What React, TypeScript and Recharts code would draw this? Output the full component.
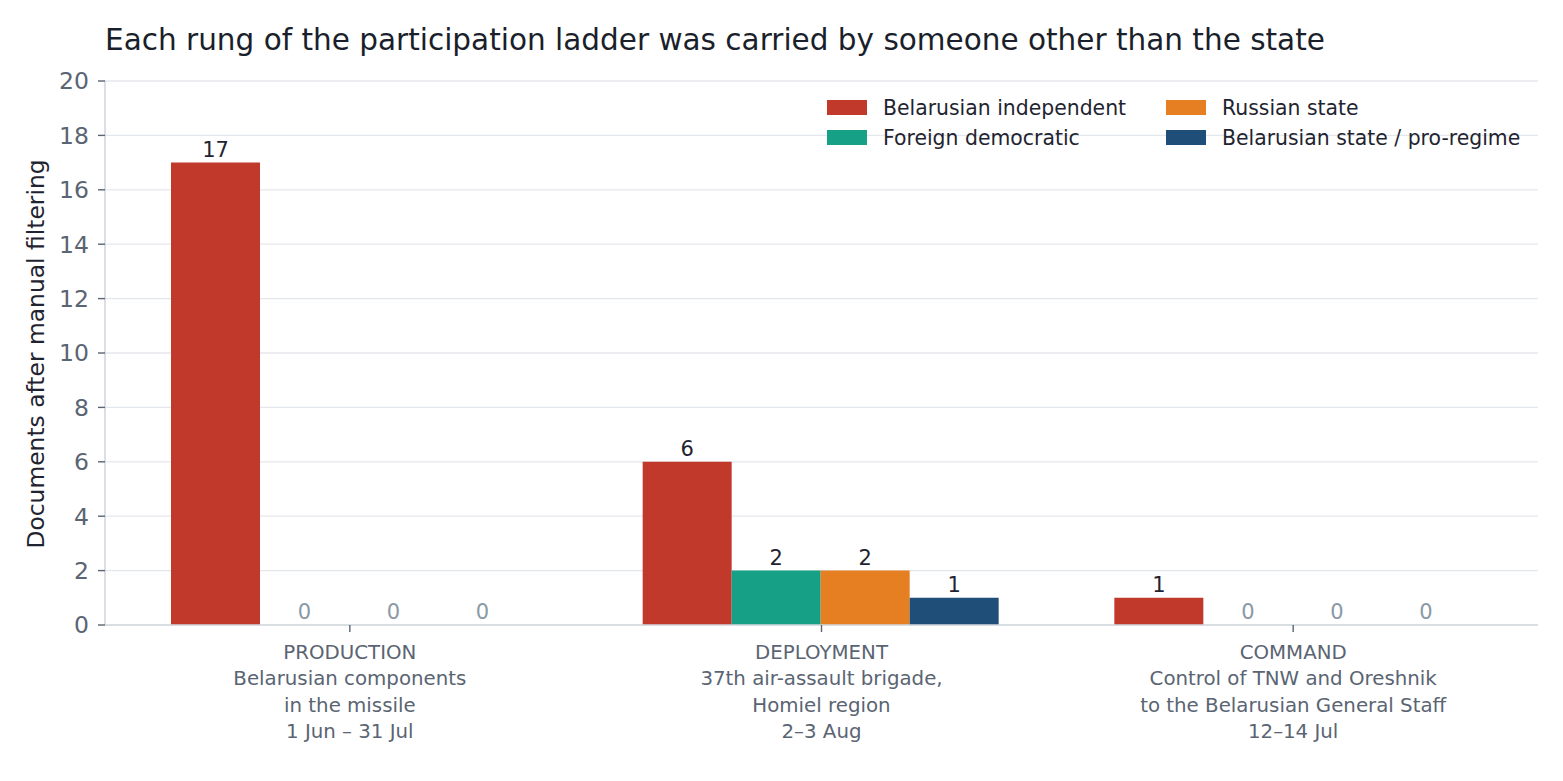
import { Bar, BarChart, CartesianGrid, LabelList, XAxis, YAxis } from "recharts";

const stages = ["PRODUCTION", "DEPLOYMENT", "COMMAND"];
const stageDetails = [
  ["Belarusian components", "in the missile", "1 Jun – 31 Jul"],
  ["37th air-assault brigade,", "Homiel region", "2–3 Aug"],
  ["Control of TNW and Oreshnik", "to the Belarusian General Staff", "12–14 Jul"],
];

const seriesNames = [
  "Belarusian independent",
  "Foreign democratic",
  "Russian state",
  "Belarusian state / pro-regime",
];
const seriesKeys = ["indep", "foreign", "russian", "bystate"];
const seriesColors = ["#c0392b", "#16a085", "#e67e22", "#1f4e79"];

const indepValues = [17, 6, 1];
const foreignValues = [0, 2, 0];
const russianValues = [0, 2, 0];
const byStateValues = [0, 1, 0];

const yTicks = [0, 2, 4, 6, 8, 10, 12, 14, 16, 18, 20];

const FONT = "'DejaVu Sans', sans-serif";

const data = stages.map((s, i) => ({
  stage: s,
  indep: indepValues[i],
  foreign: foreignValues[i],
  russian: russianValues[i],
  bystate: byStateValues[i],
}));

function StageTick({ x, y, payload, index }: any) {
  const lines = [payload.value, ...(stageDetails[index] ?? [])];
  return (
    <text x={x} y={y + 27} textAnchor="middle" fill="#5a6472" fontSize={19.8} fontFamily={FONT}>
      {lines.map((l, i) => (
        <tspan key={i} x={x} dy={i === 0 ? 0 : 26.3}>
          {l}
        </tspan>
      ))}
    </text>
  );
}

function ValueLabel({ x, y, width, height, value }: any) {
  const zero = Number(value) === 0;
  // zero bars get a tiny min height, so anchor their label on the baseline
  const top = zero ? Number(y) + Number(height) : Number(y);
  return (
    <text
      x={Number(x) + Number(width) / 2}
      y={top - 6}
      textAnchor="middle"
      fontSize={21}
      fontFamily={FONT}
      fill={zero ? "#8a99a6" : "#1f2430"}
    >
      {value}
    </text>
  );
}

function YTitle() {
  return (
    <text
      x={36}
      y={354}
      transform="rotate(-90 36 354)"
      textAnchor="middle"
      dominantBaseline="central"
      fontSize={23.4}
      fontFamily={FONT}
      fill="#1f2430"
    >
      Documents after manual filtering
    </text>
  );
}

export default function App() {
  const legendCols = [827, 1166];
  const legendRows = [100, 130];
  return (
    <div style={{ position: "absolute", left: 0, top: 0, width: 1563, height: 781, background: "#fff" }}>
      <BarChart
        width={1563}
        height={781}
        data={data}
        margin={{ top: 81, right: 25, left: 0, bottom: 0 }}
        barCategoryGap={57}
        barGap={0}
      >
        <CartesianGrid stroke="#e4e7eb" strokeWidth={1.3} vertical={false} />
        <XAxis
          dataKey="stage"
          interval={0}
          height={156}
          padding={{ left: 9, right: 9 }}
          axisLine={{ stroke: "#d3d8de", strokeWidth: 1.6 }}
          tickLine={{ stroke: "#5a6472", strokeWidth: 1.4 }}
          tickSize={7}
          tickMargin={0}
          tick={<StageTick />}
        />
        <YAxis
          width={105}
          domain={[0, 20]}
          ticks={yTicks}
          interval={0}
          axisLine={{ stroke: "#d3d8de", strokeWidth: 1.6 }}
          tickLine={{ stroke: "#5a6472", strokeWidth: 1.4 }}
          tickSize={7}
          tickMargin={9}
          tick={{ fill: "#5a6472", fontSize: 23.5, fontFamily: FONT }}
          label={<YTitle />}
        />
        {seriesKeys.map((k, i) => (
          <Bar
            key={k}
            dataKey={k}
            name={seriesNames[i]}
            fill={seriesColors[i]}
            minPointSize={0.01}
            isAnimationActive={false}
          >
            <LabelList dataKey={k} content={<ValueLabel />} />
          </Bar>
        ))}
      </BarChart>
      <svg
        width={1563}
        height={781}
        style={{ position: "absolute", left: 0, top: 0, pointerEvents: "none" }}
      >
        <text x={105} y={50} fontSize={29.5} fontFamily={FONT} fill="#1a1f2b">
          Each rung of the participation ladder was carried by someone other than the state
        </text>
        {seriesNames.map((name, i) => {
          const col = Math.floor(i / 2);
          const row = i % 2;
          const sx = legendCols[col];
          const sy = legendRows[row];
          return (
            <g key={name}>
              <rect x={sx} y={sy} width={40} height={15} fill={seriesColors[i]} />
              <text x={sx + 56} y={sy + 15} fontSize={20.4} fontFamily={FONT} fill="#1f2430">
                {name}
              </text>
            </g>
          );
        })}
      </svg>
    </div>
  );
}
